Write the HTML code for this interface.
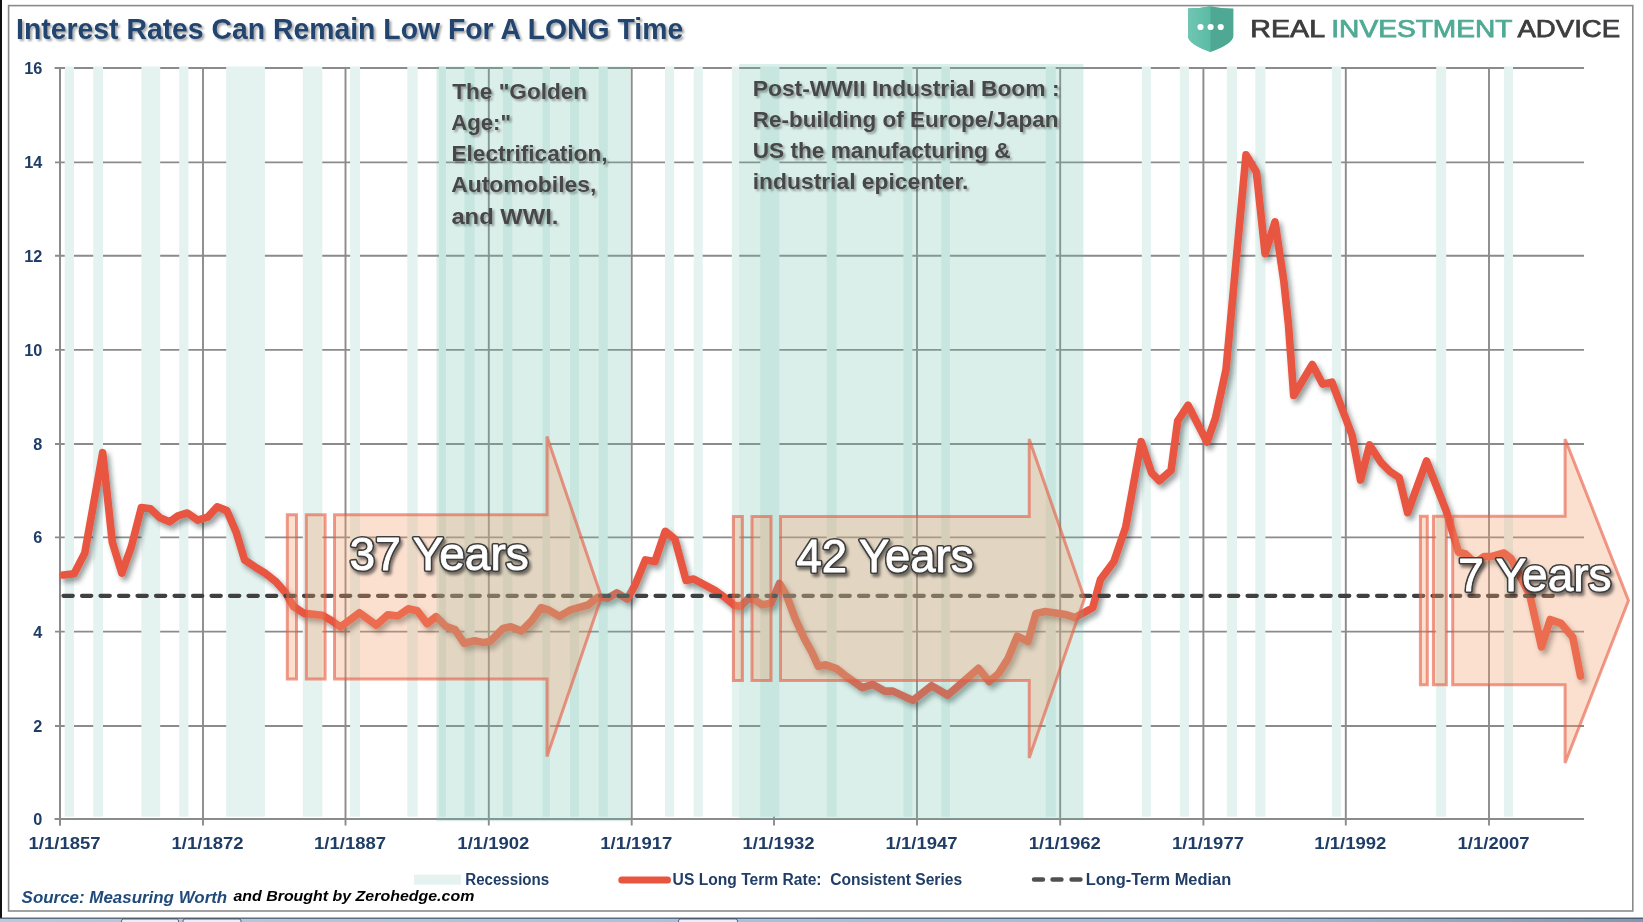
<!DOCTYPE html>
<html><head><meta charset="utf-8"><title>Interest Rates Can Remain Low For A LONG Time</title>
<style>
html,body{margin:0;padding:0;background:#fff;overflow:hidden}
body{width:1643px;height:922px;position:relative;font-family:"Liberation Sans",sans-serif}
svg{position:absolute;left:0;top:0;display:block}
#wrap{position:absolute;left:0;top:0;width:1643px;height:922px;will-change:transform}
text{font-family:"Liberation Sans",sans-serif}
</style></head><body><div id="wrap">
<svg width="1643" height="922" viewBox="0 0 1643 922">
<defs>
<filter id="lsh" x="-5%" y="-5%" width="110%" height="110%"><feGaussianBlur in="SourceAlpha" stdDeviation="2.4"/><feOffset dx="2.6" dy="3.8" result="b"/><feFlood flood-color="#1a2a2a" flood-opacity="0.45"/><feComposite in2="b" operator="in"/><feMerge><feMergeNode/><feMergeNode in="SourceGraphic"/></feMerge></filter>
<filter id="tsh" x="-5%" y="-20%" width="110%" height="140%"><feGaussianBlur in="SourceAlpha" stdDeviation="1.1"/><feOffset dx="1.6" dy="1.8" result="b"/><feFlood flood-color="#000" flood-opacity="0.35"/><feComposite in2="b" operator="in"/><feMerge><feMergeNode/><feMergeNode in="SourceGraphic"/></feMerge></filter>
<filter id="bsh" x="-5%" y="-20%" width="110%" height="140%"><feGaussianBlur in="SourceAlpha" stdDeviation="1.6"/><feOffset dx="2" dy="2.5" result="b"/><feFlood flood-color="#000" flood-opacity="0.5"/><feComposite in2="b" operator="in"/><feMerge><feMergeNode/><feMergeNode in="SourceGraphic"/></feMerge></filter>
<linearGradient id="shl" x1="0" y1="0" x2="1" y2="0"><stop offset="0" stop-color="#70c6b2"/><stop offset="1" stop-color="#5bbba5"/></linearGradient>
</defs>
<rect x="0" y="0" width="1643" height="922" fill="#fff"/>
<rect x="0" y="0" width="2" height="918" fill="#111"/>
<linearGradient id="tb" x1="0" y1="0" x2="1" y2="0"><stop offset="0" stop-color="#b9c9db"/><stop offset="0.45" stop-color="#a9c0dc"/><stop offset="0.75" stop-color="#a6bcd6"/><stop offset="1" stop-color="#8497b0"/></linearGradient>
<rect x="0" y="918" width="1643" height="4" fill="url(#tb)"/>
<rect x="0" y="917.6" width="1643" height="1.1" fill="#3b4758"/>
<g fill="#e9eff6" stroke="#394556" stroke-width="0.8"><rect x="121.5" y="919" width="57" height="6" rx="2"/><rect x="183" y="919" width="58" height="6" rx="2"/><rect x="678.5" y="919" width="59" height="6" rx="2"/></g>
<rect x="8.6" y="5.6" width="1624.2" height="905.4" fill="none" stroke="#8a8a8a" stroke-width="1.6"/>

<path d="M55 726 H1584 M55 631.6 H1584 M55 537.4 H1584 M55 444 H1584 M55 349.9 H1584 M55 255.7 H1584 M55 162.4 H1584 M55 68 H1584" stroke="#8b8b8b" stroke-width="1.9" fill="none"/>
<path d="M60 68 V825.6 M203 68 V825.6 M345.5 68 V825.6 M488.8 68 V825.6 M631.7 68 V825.6 M774 68 V825.6 M917 68 V825.6 M1060.2 68 V825.6 M1203.4 68 V825.6 M1345.8 68 V825.6 M1489 68 V825.6" stroke="#8b8b8b" stroke-width="1.9" fill="none"/>
<g fill="#e4f3f0"><rect x="64.7" y="66.5" width="9.3" height="750.2"/><rect x="93.2" y="66.5" width="9.8" height="750.2"/><rect x="141.4" y="66.5" width="18.8" height="750.2"/><rect x="179.2" y="66.5" width="9.2" height="750.2"/><rect x="226.2" y="66.5" width="38.7" height="750.2"/><rect x="302.8" y="66.5" width="19.5" height="750.2"/><rect x="350.1" y="66.5" width="9.9" height="750.2"/><rect x="407.3" y="66.5" width="10.4" height="750.2"/><rect x="439" y="66.5" width="7" height="750.2"/><rect x="464.5" y="66.5" width="10.2" height="750.2"/><rect x="502.9" y="66.5" width="9.5" height="750.2"/><rect x="542.5" y="66.5" width="7.5" height="750.2"/><rect x="570" y="66.5" width="9" height="750.2"/><rect x="598.7" y="66.5" width="9" height="750.2"/><rect x="665" y="66.5" width="9.2" height="750.2"/><rect x="693.7" y="66.5" width="9" height="750.2"/><rect x="731.8" y="66.5" width="7.4" height="750.2"/><rect x="760.3" y="66.5" width="19.1" height="750.2"/><rect x="826.7" y="66.5" width="9.9" height="750.2"/><rect x="903.4" y="66.5" width="9" height="750.2"/><rect x="941.3" y="66.5" width="8.6" height="750.2"/><rect x="1045.7" y="66.5" width="10" height="750.2"/><rect x="1141.8" y="66.5" width="9" height="750.2"/><rect x="1179.8" y="66.5" width="9.1" height="750.2"/><rect x="1226.8" y="66.5" width="10.2" height="750.2"/><rect x="1255.3" y="66.5" width="10.1" height="750.2"/><rect x="1331.8" y="66.5" width="9.4" height="750.2"/><rect x="1436.2" y="66.5" width="10" height="750.2"/><rect x="1504.1" y="66.5" width="8.9" height="750.2"/></g>
<path d="M54.6 819 H1584 M54.6 68 H65 M60 68 V825.6" stroke="#8b8b8b" stroke-width="1.9" fill="none"/>
<path d="M63.3 575 L74.1 573.8 L84.8 552.9 L102.7 452.7 L112.3 542.1 L121.8 573.1 L131.3 546.9 L141.4 507.5 L150.4 508.7 L160 517.8 L169.5 521.8 L177.9 515.9 L187.4 513 L197.7 520.2 L207.7 517.1 L217.2 506.8 L226.8 510.6 L236.3 532.6 L244.6 560 L255.4 567.2 L264.9 573.1 L275.7 581.5 L285.2 592.2 L293.5 606.5 L304.1 613.4 L322.3 615.3 L331.4 620.5 L340.5 627 L359.4 612.7 L376.3 625.1 L388 614.7 L397.8 616 L408.2 608.8 L417.3 610.7 L427.1 623.8 L436.2 616.6 L445.9 626.4 L455 629.6 L464.2 643.3 L474.6 640.7 L483.7 642.6 L490 641.5 L503 628.5 L510.8 626.7 L521.3 631.1 L531.7 620.7 L541.2 607.6 L549 610.2 L559.4 616.3 L569.9 610.2 L578.5 607.6 L588.1 605 L597.6 597.2 L608 598.1 L616.7 592.9 L627.2 599 L635 585.1 L645.4 559.9 L654.9 561.6 L665.3 531.3 L674.9 539.1 L686.1 580.5 L693.7 579 L714.9 590.4 L725.6 598 L734.7 605.6 L740.7 606.3 L748.3 598.7 L754.4 599.5 L762 604.8 L771.1 603.3 L779.5 583.5 L786.3 594.9 L795.4 619.2 L804.5 639 L812.1 652.6 L818.2 666.3 L825.8 664.8 L836.4 668.6 L847 676.9 L862.2 687.6 L872.9 684.5 L884.7 691.1 L892.8 691.1 L912.8 700.4 L931.6 685.7 L947.7 695.1 L966.4 679 L978.5 668.3 L989.2 681.7 L998.5 673.6 L1007.9 658.9 L1017.3 636.2 L1028 641.5 L1036 613.4 L1045.4 611.6 L1065.4 614.4 L1075 617.6 L1092.7 607.8 L1100.5 579.5 L1113.9 561.5 L1125.6 527.6 L1141.2 441.7 L1151.6 472.9 L1159.4 480.7 L1171.1 470.3 L1177.7 420.8 L1188.1 405.2 L1207 442 L1215.4 418.2 L1226 369.6 L1246 154.8 L1256.4 172.1 L1265.1 253.7 L1275 222 L1283.8 281 L1288.4 324 L1293.7 395.5 L1312.3 364.5 L1322.6 384.1 L1331.9 382.1 L1352 435 L1360.5 480 L1369.6 445 L1381 462.5 L1390.1 471.6 L1399.2 477.7 L1407.6 512.6 L1426.5 461 L1446.3 511.1 L1458.4 552 L1465.5 554 L1475 563 L1484 556.5 L1492 556.5 L1504 553 L1511 558.5 L1529.8 595.1 L1541.5 646.8 L1550.2 619.5 L1561 623.4 L1572.7 637.1 L1580.5 676.1" fill="none" stroke="#e8553f" stroke-width="7.6" stroke-linejoin="round" stroke-linecap="round" filter="url(#lsh)"/>
<path d="M63.5 595.8 H1553" stroke="#404040" stroke-width="4.2" stroke-dasharray="9.3 9.2" stroke-linecap="round" fill="none"/>
<rect x="436.4" y="66.5" width="193.8" height="754.8" fill="#6ebeaa" fill-opacity="0.25"/>
<rect x="739.2" y="64" width="344.2" height="755" fill="#6ebeaa" fill-opacity="0.25"/>
<path d="M287.3 514.8 H296.5 V679.1 H287.3 Z M306.3 514.8 H325.1 V679.1 H306.3 Z M334.5 514.8 H547 V436.5 L601.5 597 L547 756.5 V679.1 H334.5 Z" fill="#f3a06e" fill-opacity="0.32" stroke="#e6583f" stroke-opacity="0.6" stroke-width="3"/>
<path d="M733.4 516.6 H742.4 V680.4 H733.4 Z M752 516.6 H771 V680.4 H752 Z M780.5 516.6 H1029.2 V439 L1084.5 598.5 L1029.2 758 V680.4 H780.5 Z" fill="#f3a06e" fill-opacity="0.32" stroke="#e6583f" stroke-opacity="0.6" stroke-width="3"/>
<path d="M1420.4 516.3 H1427.3 V684.7 H1420.4 Z M1433.4 516.3 H1446.3 V684.7 H1433.4 Z M1452.7 516.3 H1565.1 V439 L1628.5 600.5 L1565.1 763 V684.7 H1452.7 Z" fill="#f3a06e" fill-opacity="0.32" stroke="#e6583f" stroke-opacity="0.6" stroke-width="3"/>
<g fill="#474747" filter="url(#tsh)">
<text x="452.2" y="98.8" font-size="22" font-weight="bold" font-style="normal" textLength="134.98" lengthAdjust="spacingAndGlyphs">The &quot;Golden</text>
<text x="451.19" y="129.9" font-size="22" font-weight="bold" font-style="normal" textLength="59.85" lengthAdjust="spacingAndGlyphs">Age:&quot;</text>
<text x="451.47" y="161.2" font-size="22" font-weight="bold" font-style="normal" textLength="156.07" lengthAdjust="spacingAndGlyphs">Electrification,</text>
<text x="451.16" y="192.4" font-size="22" font-weight="bold" font-style="normal" textLength="145.24" lengthAdjust="spacingAndGlyphs">Automobiles,</text>
<text x="451.42" y="223.5" font-size="22" font-weight="bold" font-style="normal" textLength="106.94" lengthAdjust="spacingAndGlyphs">and WWI.</text>
<text x="752.76" y="95.8" font-size="22" font-weight="bold" font-style="normal" textLength="306.77" lengthAdjust="spacingAndGlyphs">Post-WWII Industrial Boom :</text>
<text x="752.78" y="126.9" font-size="22" font-weight="bold" font-style="normal" textLength="305.7" lengthAdjust="spacingAndGlyphs">Re-building of Europe/Japan</text>
<text x="752.77" y="158.1" font-size="22" font-weight="bold" font-style="normal" textLength="257.82" lengthAdjust="spacingAndGlyphs">US the manufacturing &amp;</text>
<text x="752.76" y="189.4" font-size="22" font-weight="bold" font-style="normal" textLength="215.71" lengthAdjust="spacingAndGlyphs">industrial epicenter.</text>
</g>
<g fill="#3c3c3c" stroke="#3c3c3c" stroke-width="4.2" stroke-linejoin="round" filter="url(#bsh)">
<text x="349.54" y="570" font-size="47" font-weight="normal" font-style="normal" textLength="179.27" lengthAdjust="spacingAndGlyphs">37 Years</text>
<text x="796.53" y="571.6" font-size="47" font-weight="normal" font-style="normal" textLength="176.96" lengthAdjust="spacingAndGlyphs">42 Years</text>
<text x="1458.14" y="591.3" font-size="47" font-weight="normal" font-style="normal" textLength="153.43" lengthAdjust="spacingAndGlyphs">7 Years</text>
</g>
<g fill="#fff" stroke="#fff" stroke-width="0.9" stroke-linejoin="round">
<text x="349.54" y="570" font-size="47" font-weight="normal" font-style="normal" textLength="179.27" lengthAdjust="spacingAndGlyphs">37 Years</text>
<text x="796.53" y="571.6" font-size="47" font-weight="normal" font-style="normal" textLength="176.96" lengthAdjust="spacingAndGlyphs">42 Years</text>
<text x="1458.14" y="591.3" font-size="47" font-weight="normal" font-style="normal" textLength="153.43" lengthAdjust="spacingAndGlyphs">7 Years</text>
</g>
<text x="16.08" y="38.9" font-size="29.5" font-weight="bold" font-style="normal" textLength="667.12" lengthAdjust="spacingAndGlyphs" fill="#22456f" filter="url(#tsh)">Interest Rates Can Remain Low For A LONG Time</text>
<path d="M1188 8.6 Q1200 8.6 1210.5 6.2 Q1221 8.6 1233.4 8.6 V36 Q1233 44 1210.5 52 Q1188 44 1188 36 Z" fill="#4ea894"/>
<path d="M1188 8.6 Q1200 8.6 1210.5 6.2 V52 Q1188 44 1188 36 Z" fill="url(#shl)"/>
<g fill="#fff"><circle cx="1200.5" cy="27" r="3.1"/><circle cx="1210.6" cy="27" r="3.1"/><circle cx="1220.7" cy="27" r="3.1"/></g>
<text x="1250.37" y="37" font-size="23.5" font-weight="normal" font-style="normal" textLength="74.71" lengthAdjust="spacingAndGlyphs" fill="#3d3d3f" stroke="#3d3d3f" stroke-width="0.75">REAL</text>
<text x="1331.31" y="37" font-size="23.5" font-weight="normal" font-style="normal" textLength="181.25" lengthAdjust="spacingAndGlyphs" fill="#4faa95" stroke="#4faa95" stroke-width="0.75">INVESTMENT</text>
<text x="1517.4" y="37" font-size="23.5" font-weight="normal" font-style="normal" textLength="102.79" lengthAdjust="spacingAndGlyphs" fill="#3d3d3f" stroke="#3d3d3f" stroke-width="0.75">ADVICE</text>
<g font-weight="bold" font-size="16.3" fill="#1f3d66">
<text x="42.3" y="824.9" text-anchor="end">0</text>
<text x="42.3" y="731.9" text-anchor="end">2</text>
<text x="42.3" y="637.5" text-anchor="end">4</text>
<text x="42.3" y="543.3" text-anchor="end">6</text>
<text x="42.3" y="449.9" text-anchor="end">8</text>
<text x="42.3" y="355.8" text-anchor="end">10</text>
<text x="42.3" y="261.6" text-anchor="end">12</text>
<text x="42.3" y="168.3" text-anchor="end">14</text>
<text x="42.3" y="73.9" text-anchor="end">16</text>
</g>
<g fill="#1f3d66">
<text x="28.59" y="848.7" font-size="16" font-weight="bold" font-style="normal" textLength="71.98" lengthAdjust="spacingAndGlyphs">1/1/1857</text>
<text x="171.59" y="848.7" font-size="16" font-weight="bold" font-style="normal" textLength="71.98" lengthAdjust="spacingAndGlyphs">1/1/1872</text>
<text x="314.09" y="848.7" font-size="16" font-weight="bold" font-style="normal" textLength="71.98" lengthAdjust="spacingAndGlyphs">1/1/1887</text>
<text x="457.39" y="848.7" font-size="16" font-weight="bold" font-style="normal" textLength="71.98" lengthAdjust="spacingAndGlyphs">1/1/1902</text>
<text x="600.29" y="848.7" font-size="16" font-weight="bold" font-style="normal" textLength="71.98" lengthAdjust="spacingAndGlyphs">1/1/1917</text>
<text x="742.59" y="848.7" font-size="16" font-weight="bold" font-style="normal" textLength="71.98" lengthAdjust="spacingAndGlyphs">1/1/1932</text>
<text x="885.59" y="848.7" font-size="16" font-weight="bold" font-style="normal" textLength="71.98" lengthAdjust="spacingAndGlyphs">1/1/1947</text>
<text x="1028.79" y="848.7" font-size="16" font-weight="bold" font-style="normal" textLength="71.98" lengthAdjust="spacingAndGlyphs">1/1/1962</text>
<text x="1171.99" y="848.7" font-size="16" font-weight="bold" font-style="normal" textLength="71.98" lengthAdjust="spacingAndGlyphs">1/1/1977</text>
<text x="1314.39" y="848.7" font-size="16" font-weight="bold" font-style="normal" textLength="71.98" lengthAdjust="spacingAndGlyphs">1/1/1992</text>
<text x="1457.59" y="848.7" font-size="16" font-weight="bold" font-style="normal" textLength="71.98" lengthAdjust="spacingAndGlyphs">1/1/2007</text>
</g>
<rect x="414" y="874.7" width="47" height="10" fill="#e4f3f0"/>
<path d="M621.8 880 H667.5" stroke="#e8553f" stroke-width="7" stroke-linecap="round"/>
<path d="M1034 879.5 H1043 M1052.5 879.5 H1061.5 M1071.5 879.5 H1080.5" stroke="#505050" stroke-width="4.4" stroke-linecap="round"/>
<g fill="#1f3d66">
<text x="465.26" y="884.6" font-size="16" font-weight="bold" font-style="normal" textLength="83.93" lengthAdjust="spacingAndGlyphs">Recessions</text>
<text x="672.62" y="884.6" font-size="16" font-weight="bold" font-style="normal" textLength="289.52" lengthAdjust="spacingAndGlyphs">US Long Term Rate:&#160; Consistent Series</text>
<text x="1085.67" y="884.6" font-size="16" font-weight="bold" font-style="normal" textLength="145.57" lengthAdjust="spacingAndGlyphs">Long-Term Median</text>
</g>
<text x="21.6" y="902.6" font-size="16" font-weight="bold" font-style="italic" textLength="205.61" lengthAdjust="spacingAndGlyphs" fill="#1f4a7a">Source: Measuring Worth</text>
<text x="233.4" y="901.2" font-size="15.5" font-weight="bold" font-style="italic" textLength="240.94" lengthAdjust="spacingAndGlyphs" fill="#000">and Brought by Zerohedge.com</text>
</svg></div></body></html>
